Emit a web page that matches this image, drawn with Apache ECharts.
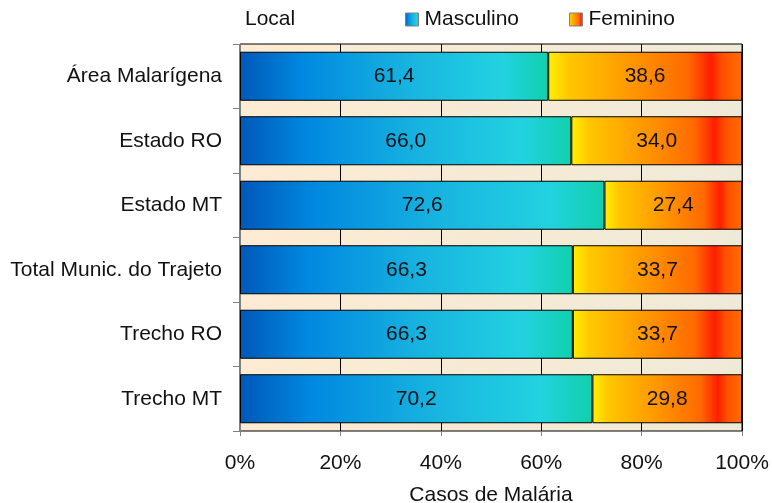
<!DOCTYPE html>
<html>
<head>
<meta charset="utf-8">
<script src="https://cdn.jsdelivr.net/npm/echarts@6/dist/echarts.min.js"></script>
<style>
  html, body { margin: 0; padding: 0; background: #fff; }
  #chart { width: 772px; height: 503px; }
</style>
</head>
<body>
<div id="chart"></div>
<script>
// Locais e percentuais de casos de malária por sexo
const categories = ['Área Malarígena', 'Estado RO', 'Estado MT', 'Total Munic. do Trajeto', 'Trecho RO', 'Trecho MT'];
const masculino = [61.4, 66.0, 72.6, 66.3, 66.3, 70.2];
const feminino = [38.6, 34.0, 27.4, 33.7, 33.7, 29.8];
const xTicks = [0, 20, 40, 60, 80, 100];

const FONT = '"Liberation Sans", Arial, sans-serif';
const FS = 21;

const blueFill = new echarts.graphic.LinearGradient(0, 0, 1, 0, [
  { offset: 0, color: '#0058b8' },
  { offset: 0.2, color: '#0088e0' },
  { offset: 0.55, color: '#18b4e0' },
  { offset: 0.85, color: '#22d2e0' },
  { offset: 1, color: '#10d0ac' }
]);
const orangeFill = new echarts.graphic.LinearGradient(0, 0, 1, 0, [
  { offset: 0, color: '#fff200' },
  { offset: 0.1, color: '#ffc800' },
  { offset: 0.5, color: '#ff8c00' },
  { offset: 0.72, color: '#ff6a00' },
  { offset: 0.84, color: '#ff1e00' },
  { offset: 0.9, color: '#ff5000' },
  { offset: 1, color: '#ff6e00' }
]);

const fmt = v => v.toFixed(1).replace('.', ',');

const chart = echarts.init(document.getElementById('chart'), null, { renderer: 'canvas' });
chart.setOption({
  animation: false,
  backgroundColor: '#ffffff',
  textStyle: { fontFamily: FONT },
  title: {
    text: 'Local',
    left: 245, top: 9, padding: 0,
    textStyle: { fontFamily: FONT, fontSize: FS, fontWeight: 'normal', color: '#111' }
  },
  legend: {
    left: 405, top: 9, padding: 0,
    itemWidth: 13, itemHeight: 13, itemGap: 50,
    icon: 'rect',
    textStyle: { fontFamily: FONT, fontSize: FS, color: '#111', padding: [0, 0, 0, 1] },
    data: [
      { name: 'Masculino', itemStyle: { borderColor: '#808080', borderWidth: 1 } },
      { name: 'Feminino', itemStyle: { borderColor: '#808080', borderWidth: 1 } }
    ]
  },
  grid: {
    left: 240, right: 30, top: 44, bottom: 72,
    outerBoundsMode: 'none',
    containLabel: false,
    show: true,
    backgroundColor: new echarts.graphic.LinearGradient(0, 0, 1, 0, [
      { offset: 0, color: '#fdebd2' },
      { offset: 1, color: '#efead8' }
    ]),
    borderColor: '#000', borderWidth: 1
  },
  xAxis: {
    type: 'value',
    min: xTicks[0], max: xTicks[xTicks.length - 1], interval: 20,
    name: 'Casos de Malária',
    nameLocation: 'middle', nameGap: 54,
    nameTextStyle: { fontFamily: FONT, fontSize: FS, color: '#111' },
    axisLine: { show: true, lineStyle: { color: '#808080', width: 1 } },
    axisTick: { show: true, length: 5, lineStyle: { color: '#808080' } },
    axisLabel: { formatter: '{value}%', fontFamily: FONT, fontSize: FS, color: '#111', margin: 22 },
    splitLine: { show: true, lineStyle: { color: '#000', width: 1 } }
  },
  yAxis: {
    type: 'category',
    inverse: true,
    data: categories,
    axisLine: { show: true, lineStyle: { color: '#808080', width: 1 } },
    axisTick: { show: true, length: 7, lineStyle: { color: '#808080' } },
    axisLabel: { fontFamily: FONT, fontSize: FS, color: '#111', margin: 18 }
  },
  series: [
    {
      name: 'Masculino', type: 'bar', stack: 'total',
      data: masculino, barCategoryGap: '24%',
      itemStyle: { color: blueFill, borderColor: '#000', borderWidth: 1 },
      label: { show: true, position: 'inside', formatter: p => fmt(p.value), fontFamily: FONT, fontSize: FS, color: '#111' }
    },
    {
      name: 'Feminino', type: 'bar', stack: 'total',
      data: feminino, barCategoryGap: '24%',
      itemStyle: { color: orangeFill, borderColor: '#000', borderWidth: 1 },
      label: { show: true, position: 'inside', formatter: p => fmt(p.value), fontFamily: FONT, fontSize: FS, color: '#111' }
    }
  ]
});
</script>
</body>
</html>
